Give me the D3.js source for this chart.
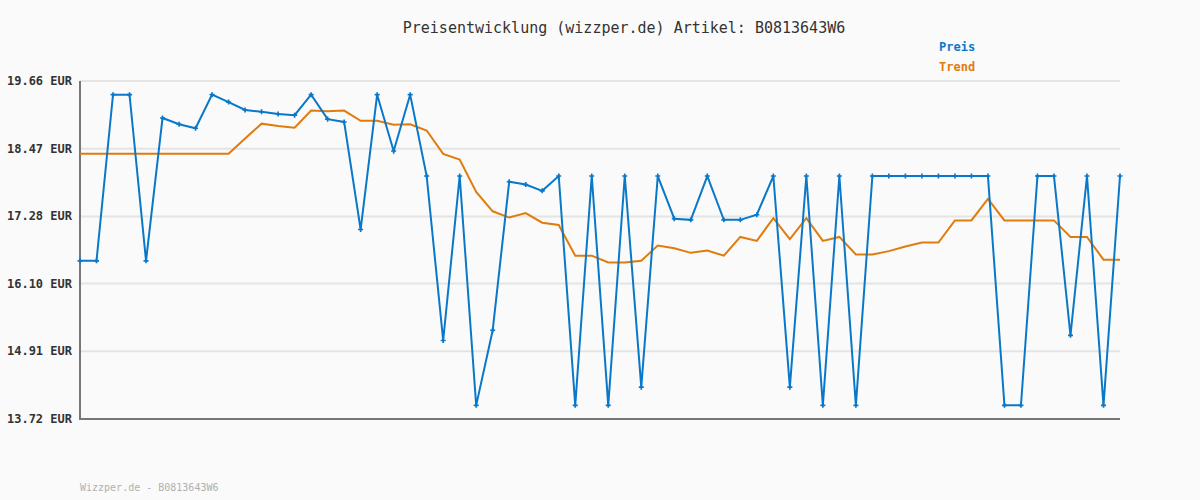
<!DOCTYPE html>
<html>
<head>
<meta charset="utf-8">
<script src="https://cdn.jsdelivr.net/npm/d3@7"></script>
<style>
body { margin: 0; background: #fafafa; }
svg { display: block; }
text { font-family: "DejaVu Sans Mono", monospace; }
</style>
</head>
<body>
<svg id="chart"></svg>
<script>
// Preis-Werte, von links nach rechts
var preis = [16.50, 16.50, 19.42, 19.42, 16.50, 19.01, 18.90, 18.83, 19.42, 19.29,
             19.15, 19.12, 19.08, 19.06, 19.42, 18.99, 18.94, 17.05, 19.42, 18.43,
             19.42, 17.99, 15.10, 17.99, 13.96, 15.28, 17.89, 17.84, 17.73, 17.99,
             13.96, 17.99, 13.96, 17.99, 14.28, 17.99, 17.24, 17.22, 17.99, 17.22,
             17.22, 17.31, 17.99, 14.28, 17.99, 13.96, 17.99, 13.96, 17.99, 17.99,
             17.99, 17.99, 17.99, 17.99, 17.99, 17.99, 13.96, 13.96, 17.99, 17.99,
             15.19, 17.99, 13.96, 17.99];

var trend = [18.38, 18.38, 18.38, 18.38, 18.38, 18.38, 18.38, 18.38, 18.38, 18.38,
             18.65, 18.91, 18.87, 18.84, 19.14, 19.13, 19.14, 18.96, 18.96, 18.89,
             18.90, 18.79, 18.38, 18.28, 17.71, 17.37, 17.26, 17.34, 17.17, 17.13,
             16.59, 16.59, 16.47, 16.47, 16.50, 16.77, 16.72, 16.64, 16.68, 16.59,
             16.92, 16.85, 17.25, 16.88, 17.25, 16.85, 16.92, 16.61, 16.61, 16.67,
             16.75, 16.82, 16.82, 17.21, 17.21, 17.59, 17.21, 17.21, 17.21, 17.21,
             16.92, 16.92, 16.52, 16.52];

var yTicks = [13.72, 14.91, 16.10, 17.28, 18.47, 19.66];

var titel = "Preisentwicklung (wizzper.de) Artikel: B0813643W6";
var fuss = "Wizzper.de - B0813643W6";

var width = 1200;
var height = 500;
var blau = "#0a78c8";
var orange = "#e07c0c";

var svg = d3.select("#chart")
    .attr("width", width)
    .attr("height", height);

svg.append("rect")
    .attr("width", width)
    .attr("height", height)
    .attr("fill", "#fafafa");

var xScale = d3.scaleLinear()
    .domain([0, preis.length - 1])
    .range([80, 1120]);

var yScale = d3.scaleLinear()
    .domain([13.72, 19.66])
    .range([419, 81]);

// Gitterlinien
svg.selectAll("line.grid")
    .data(yTicks)
    .enter()
    .append("line")
    .attr("class", "grid")
    .attr("x1", 80)
    .attr("x2", 1120)
    .attr("y1", function(d) { return yScale(d); })
    .attr("y2", function(d) { return yScale(d); })
    .attr("stroke", "#e4e4e4")
    .attr("stroke-width", 2);

svg.selectAll("text.ylab")
    .data(yTicks)
    .enter()
    .append("text")
    .attr("class", "ylab")
    .attr("x", 72)
    .attr("y", function(d) { return yScale(d) + 4; })
    .attr("text-anchor", "end")
    .attr("font-size", 12)
    .attr("font-weight", "bold")
    .attr("fill", "#333")
    .text(function(d) { return d.toFixed(2) + " EUR"; });

// Achsen
svg.append("path")
    .attr("d", "M" + xScale(0) + "," + yScale(19.66) + "V" + yScale(13.72) + "H" + xScale(preis.length - 1))
    .attr("fill", "none")
    .attr("stroke", "#777")
    .attr("stroke-width", 2);

var line = d3.line()
    .x(function(d, i) { return xScale(i); })
    .y(function(d) { return yScale(d); });

svg.append("path")
    .datum(trend)
    .attr("d", line)
    .attr("fill", "none")
    .attr("stroke", orange)
    .attr("stroke-width", 2);

svg.append("path")
    .datum(preis)
    .attr("d", line)
    .attr("fill", "none")
    .attr("stroke", blau)
    .attr("stroke-width", 2);

svg.selectAll("path.marker")
    .data(preis)
    .enter()
    .append("path")
    .attr("class", "marker")
    .attr("d", d3.symbol().type(d3.symbolCross).size(14))
    .attr("transform", function(d, i) { return "translate(" + xScale(i) + "," + yScale(d) + ")"; })
    .attr("fill", blau);

// Titel, Legende, Fusszeile
svg.append("text")
    .attr("x", 624)
    .attr("y", 33)
    .attr("text-anchor", "middle")
    .attr("font-size", 15)
    .attr("fill", "#333")
    .text(titel);

svg.append("text")
    .attr("x", 939)
    .attr("y", 51)
    .attr("font-size", 12)
    .attr("font-weight", "bold")
    .attr("fill", blau)
    .text("Preis");

svg.append("text")
    .attr("x", 939)
    .attr("y", 71)
    .attr("font-size", 12)
    .attr("font-weight", "bold")
    .attr("fill", orange)
    .text("Trend");

svg.append("text")
    .attr("x", 80)
    .attr("y", 491)
    .attr("font-size", 10)
    .attr("fill", "#b0b0b0")
    .text(fuss);
</script>
</body>
</html>
